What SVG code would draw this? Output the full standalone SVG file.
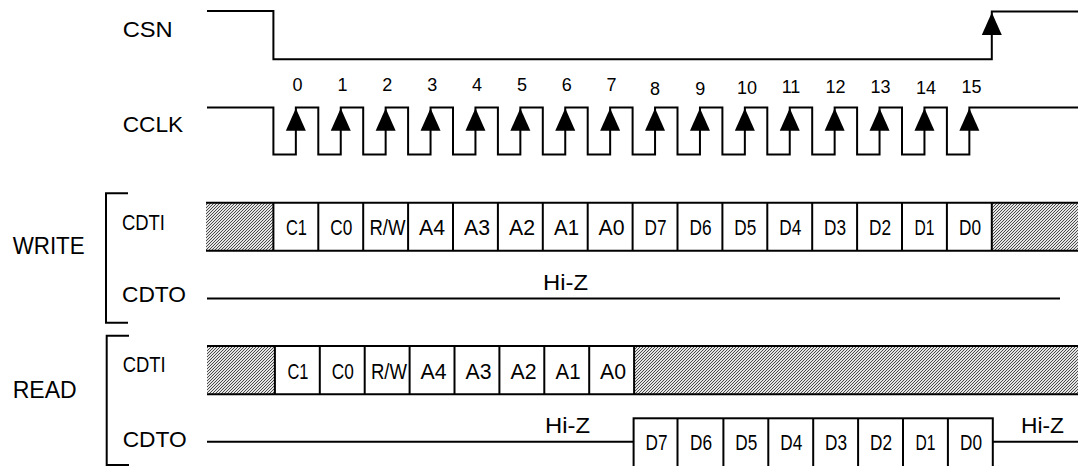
<svg xmlns="http://www.w3.org/2000/svg" width="1078" height="466" viewBox="0 0 1078 466">
<style>
text{font-family:"Liberation Sans",Arial,sans-serif;fill:#000}
.lbl{font-size:21.5px}
.grp{font-size:23px}
.num{font-size:18px;text-anchor:middle}
.cell{font-size:21.5px;text-anchor:middle}
.sig{fill:none;stroke:#000;stroke-width:2}
.box{fill:#fff;stroke:#000;stroke-width:2}
.hat{fill:url(#hatch);stroke:none}
.arr{fill:#000;stroke:none}
</style>
<defs>
<pattern id="hatch" width="3" height="3" patternUnits="userSpaceOnUse">
<rect width="3" height="3" fill="#e4e4e4"/>
<path d="M-1,1 L1,-1 M0,3 L3,0 M2,4 L4,2" stroke="#3a3a3a" stroke-width="0.9"/>
</pattern>
<path id="up" d="M0,0 L10,22.5 L-10,22.5 Z"/>
</defs>

<g id="labels">
<text class="lbl" x="122.7" y="37.3" textLength="50" lengthAdjust="spacingAndGlyphs">CSN</text>
<text class="lbl" x="122.7" y="132.3" textLength="60.5" lengthAdjust="spacingAndGlyphs">CCLK</text>
<text class="grp" x="12.7" y="254" textLength="72" lengthAdjust="spacingAndGlyphs">WRITE</text>
<text class="lbl" x="122" y="230" textLength="43" lengthAdjust="spacingAndGlyphs">CDTI</text>
<text class="lbl" x="122" y="302" textLength="64" lengthAdjust="spacingAndGlyphs">CDTO</text>
<text class="grp" x="12.7" y="398" textLength="64" lengthAdjust="spacingAndGlyphs">READ</text>
<text class="lbl" x="122.7" y="372" textLength="43" lengthAdjust="spacingAndGlyphs">CDTI</text>
<text class="lbl" x="122.7" y="446.5" textLength="64" lengthAdjust="spacingAndGlyphs">CDTO</text>
</g>

<g id="brackets" class="sig">
<path d="M128,193.3 H106 V322.7 H128"/>
<path d="M129,335.7 H106.7 V465 H129"/>
</g>

<g id="connectors">
<g id="csn">
<path class="sig" d="M207,11 H273.4 V59.3 H991.8 V11.5 H1078"/>
<use href="#up" class="arr" x="991.8" y="12.5"/>
</g>
<g id="cclk">
<path class="sig" d="M207,107.5 H273.4 V154.5 H295.85 V107.5 H318.3 V154.5 H340.75 V107.5 H363.2 V154.5 H385.65 V107.5 H408.1 V154.5 H430.55 V107.5 H453 V154.5 H475.45 V107.5 H497.9 V154.5 H520.35 V107.5 H542.8 V154.5 H565.25 V107.5 H587.7 V154.5 H610.15 V107.5 H632.6 V154.5 H655.05 V107.5 H677.5 V154.5 H699.95 V107.5 H722.4 V154.5 H744.85 V107.5 H767.3 V154.5 H789.75 V107.5 H812.2 V154.5 H834.65 V107.5 H857.1 V154.5 H879.55 V107.5 H902 V154.5 H924.45 V107.5 H946.9 V154.5 H969.35 V107.5 H1078"/>
<use href="#up" class="arr" x="295.85" y="108.3"/>
<use href="#up" class="arr" x="340.75" y="108.3"/>
<use href="#up" class="arr" x="385.65" y="108.3"/>
<use href="#up" class="arr" x="430.55" y="108.3"/>
<use href="#up" class="arr" x="475.45" y="108.3"/>
<use href="#up" class="arr" x="520.35" y="108.3"/>
<use href="#up" class="arr" x="565.25" y="108.3"/>
<use href="#up" class="arr" x="610.15" y="108.3"/>
<use href="#up" class="arr" x="655.05" y="108.3"/>
<use href="#up" class="arr" x="699.95" y="108.3"/>
<use href="#up" class="arr" x="744.85" y="108.3"/>
<use href="#up" class="arr" x="789.75" y="108.3"/>
<use href="#up" class="arr" x="834.65" y="108.3"/>
<use href="#up" class="arr" x="879.55" y="108.3"/>
<use href="#up" class="arr" x="924.45" y="108.3"/>
<use href="#up" class="arr" x="969.35" y="108.3"/>
</g>
<g id="clk-numbers">
<text class="num" x="297.5" y="91">0</text>
<text class="num" x="342.5" y="91">1</text>
<text class="num" x="387.3" y="91">2</text>
<text class="num" x="432.2" y="91">3</text>
<text class="num" x="477.1" y="91">4</text>
<text class="num" x="522" y="91">5</text>
<text class="num" x="566.8" y="91">6</text>
<text class="num" x="611.5" y="90.5">7</text>
<text class="num" x="655" y="94.5">8</text>
<text class="num" x="700.3" y="94.5">9</text>
<text class="num" x="747" y="93.5">10</text>
<text class="num" x="791" y="93">11</text>
<text class="num" x="835.5" y="93">12</text>
<text class="num" x="880.5" y="93">13</text>
<text class="num" x="926" y="93.5">14</text>
<text class="num" x="971.5" y="92.5">15</text>
</g>

<g id="write-cdti">
<rect class="hat" x="206" y="202.7" width="67.4" height="48"/>
<rect class="hat" x="991.8" y="202.7" width="86.2" height="48"/>
<path class="sig" d="M206,202.7 H1078 M206,250.7 H1078"/>
<path class="sig" d="M273.4,202.7 V250.7 M318.3,202.7 V250.7 M363.2,202.7 V250.7 M408.1,202.7 V250.7 M453,202.7 V250.7 M497.9,202.7 V250.7 M542.8,202.7 V250.7 M587.7,202.7 V250.7 M632.6,202.7 V250.7 M677.5,202.7 V250.7 M722.4,202.7 V250.7 M767.3,202.7 V250.7 M812.2,202.7 V250.7 M857.1,202.7 V250.7 M902,202.7 V250.7 M946.9,202.7 V250.7 M991.8,202.7 V250.7"/>
<text class="cell" x="296.5" y="235" textLength="21" lengthAdjust="spacingAndGlyphs">C1</text>
<text class="cell" x="341.3" y="235" textLength="22" lengthAdjust="spacingAndGlyphs">C0</text>
<text class="cell" x="387.5" y="235" textLength="36" lengthAdjust="spacingAndGlyphs">R/W</text>
<text class="cell" x="432" y="235" textLength="26" lengthAdjust="spacingAndGlyphs">A4</text>
<text class="cell" x="477" y="235" textLength="26" lengthAdjust="spacingAndGlyphs">A3</text>
<text class="cell" x="522" y="235" textLength="26" lengthAdjust="spacingAndGlyphs">A2</text>
<text class="cell" x="566.5" y="235" textLength="25" lengthAdjust="spacingAndGlyphs">A1</text>
<text class="cell" x="611.5" y="235" textLength="26" lengthAdjust="spacingAndGlyphs">A0</text>
<text class="cell" x="655.5" y="235" textLength="22" lengthAdjust="spacingAndGlyphs">D7</text>
<text class="cell" x="700.5" y="235" textLength="22" lengthAdjust="spacingAndGlyphs">D6</text>
<text class="cell" x="745.3" y="235" textLength="22" lengthAdjust="spacingAndGlyphs">D5</text>
<text class="cell" x="790.3" y="235" textLength="22" lengthAdjust="spacingAndGlyphs">D4</text>
<text class="cell" x="835" y="235" textLength="22" lengthAdjust="spacingAndGlyphs">D3</text>
<text class="cell" x="880" y="235" textLength="22" lengthAdjust="spacingAndGlyphs">D2</text>
<text class="cell" x="924.5" y="235" textLength="20" lengthAdjust="spacingAndGlyphs">D1</text>
<text class="cell" x="970" y="235" textLength="22" lengthAdjust="spacingAndGlyphs">D0</text>
</g>

<g id="write-cdto">
<path class="sig" d="M207,298.5 H1060"/>
<text class="cell" x="565.5" y="290" textLength="45" lengthAdjust="spacingAndGlyphs">Hi-Z</text>
</g>

<g id="read-cdti">
<rect class="hat" x="207" y="346" width="67.9" height="48.3"/>
<rect class="hat" x="634.1" y="346" width="443.9" height="48.3"/>
<path class="sig" d="M207,346 H1078 M207,394.3 H1078"/>
<path class="sig" d="M274.9,346 V394.3 M319.8,346 V394.3 M364.7,346 V394.3 M409.6,346 V394.3 M454.5,346 V394.3 M499.4,346 V394.3 M544.3,346 V394.3 M589.2,346 V394.3 M634.1,346 V394.3"/>
<text class="cell" x="298" y="378.5" textLength="21" lengthAdjust="spacingAndGlyphs">C1</text>
<text class="cell" x="342.8" y="378.5" textLength="22" lengthAdjust="spacingAndGlyphs">C0</text>
<text class="cell" x="389" y="378.5" textLength="36" lengthAdjust="spacingAndGlyphs">R/W</text>
<text class="cell" x="433.5" y="378.5" textLength="26" lengthAdjust="spacingAndGlyphs">A4</text>
<text class="cell" x="478.5" y="378.5" textLength="26" lengthAdjust="spacingAndGlyphs">A3</text>
<text class="cell" x="523.5" y="378.5" textLength="26" lengthAdjust="spacingAndGlyphs">A2</text>
<text class="cell" x="568" y="378.5" textLength="25" lengthAdjust="spacingAndGlyphs">A1</text>
<text class="cell" x="613" y="378.5" textLength="26" lengthAdjust="spacingAndGlyphs">A0</text>
</g>

<g id="read-cdto">
<path class="sig" d="M207,441.7 H633.6 M992.8,441.7 H1078"/>
<rect class="box" x="633.6" y="418.3" width="359.2" height="50"/>
<path class="sig" d="M677.5,418.3 V466 M723.4,418.3 V466 M768.3,418.3 V466 M813.2,418.3 V466 M858.1,418.3 V466 M903,418.3 V466 M947.9,418.3 V466"/>
<text class="cell" x="656.5" y="450" textLength="22" lengthAdjust="spacingAndGlyphs">D7</text>
<text class="cell" x="701" y="450" textLength="22" lengthAdjust="spacingAndGlyphs">D6</text>
<text class="cell" x="746.3" y="450" textLength="22" lengthAdjust="spacingAndGlyphs">D5</text>
<text class="cell" x="791.3" y="450" textLength="22" lengthAdjust="spacingAndGlyphs">D4</text>
<text class="cell" x="836" y="450" textLength="22" lengthAdjust="spacingAndGlyphs">D3</text>
<text class="cell" x="881" y="450" textLength="22" lengthAdjust="spacingAndGlyphs">D2</text>
<text class="cell" x="925.5" y="450" textLength="20" lengthAdjust="spacingAndGlyphs">D1</text>
<text class="cell" x="971" y="450" textLength="22" lengthAdjust="spacingAndGlyphs">D0</text>
<text class="cell" x="567.5" y="433.3" textLength="45" lengthAdjust="spacingAndGlyphs">Hi-Z</text>
<text class="cell" x="1042.5" y="433.3" textLength="43" lengthAdjust="spacingAndGlyphs">Hi-Z</text>
</g>
</g>
</svg>
